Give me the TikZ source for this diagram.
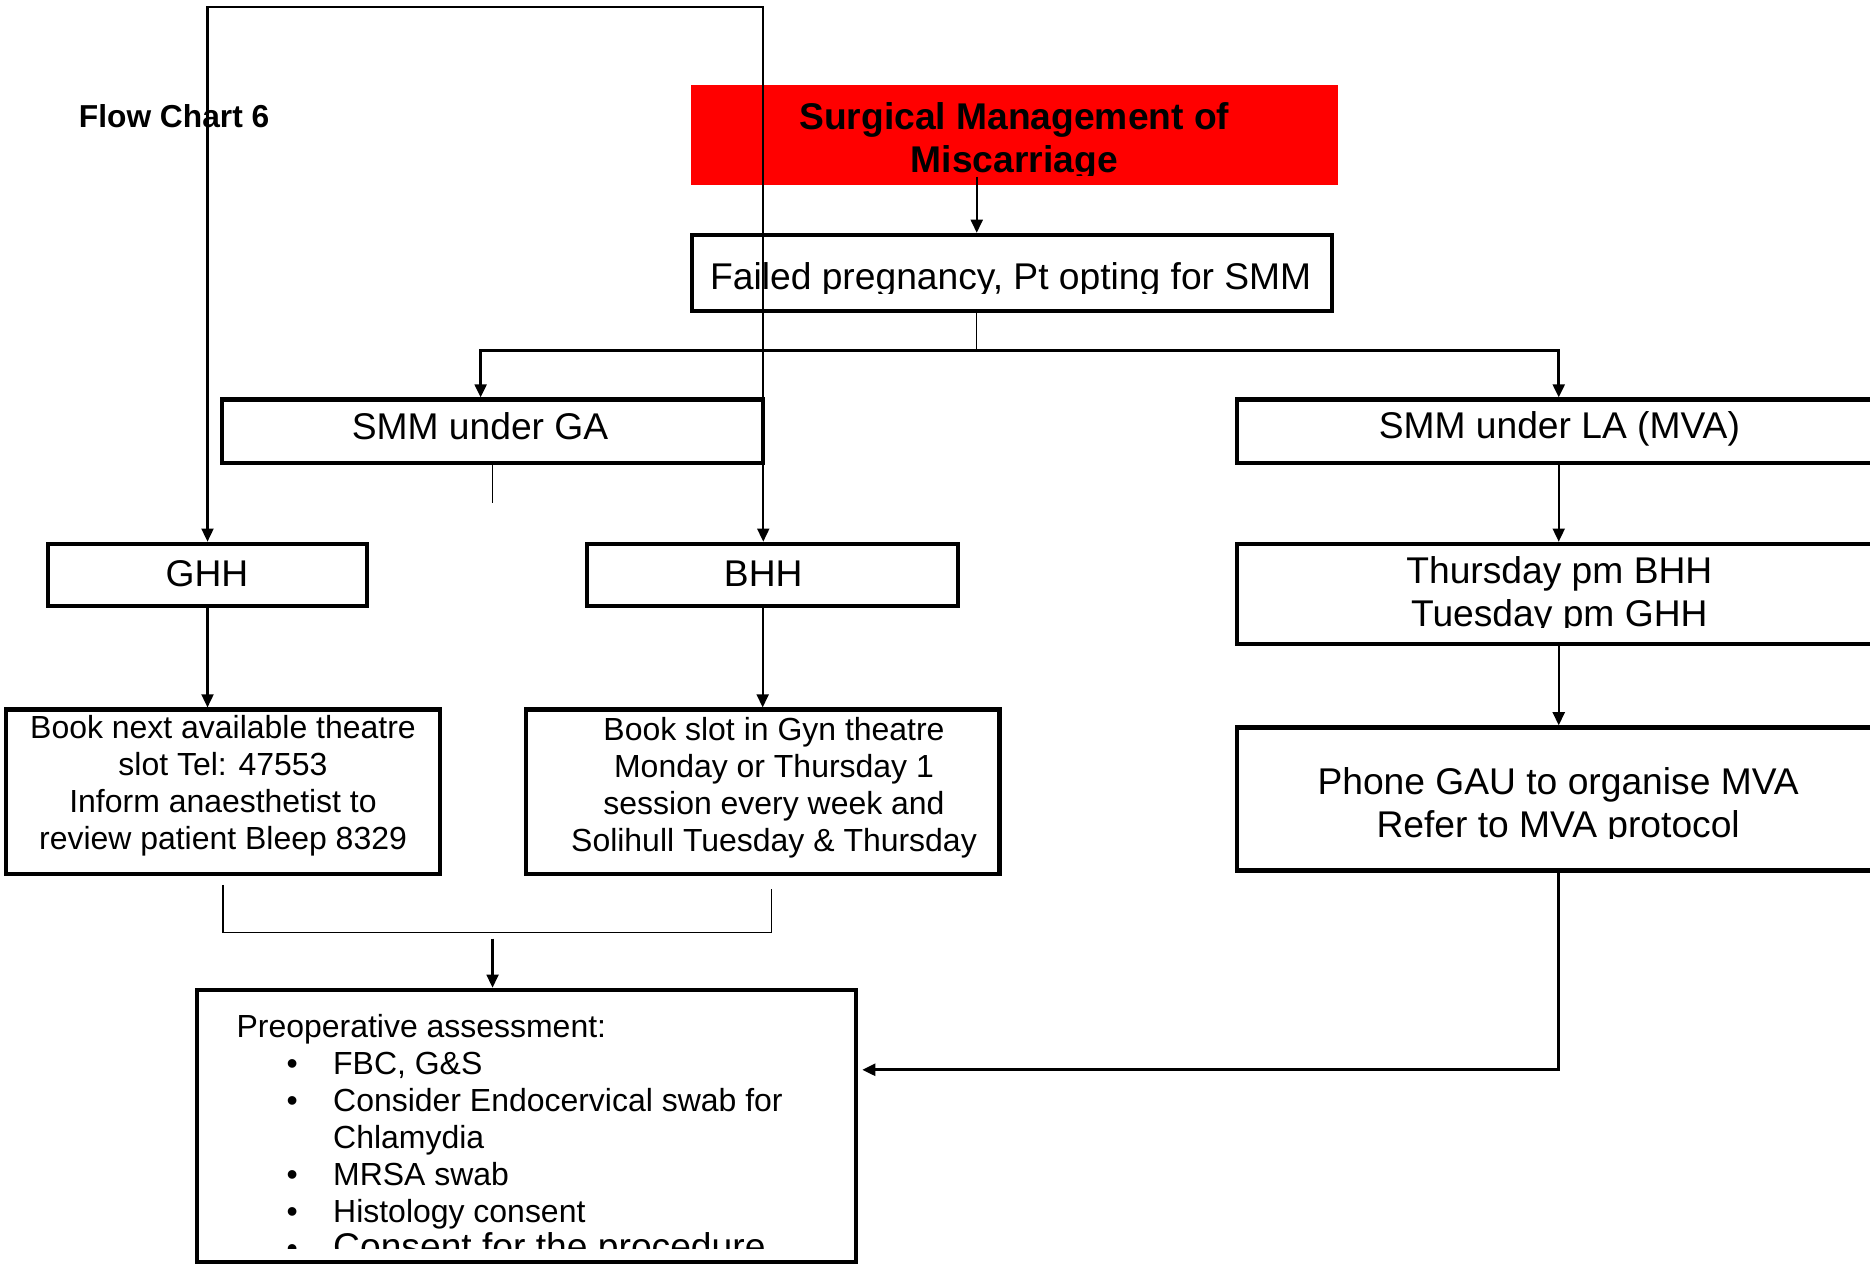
\documentclass[tikz,border=0pt]{standalone}
\usepackage{fontspec}
\setmainfont{Liberation Sans}
\usetikzlibrary{arrows.meta}
\begin{document}
\begin{tikzpicture}[x=0.5pt,y=-0.5pt,
  frame/.style={draw=black, line width=1.8pt, inner sep=0pt},
  bigtxt/.style={inner sep=0pt, align=center, font=\fontsize{15.6}{18}\selectfont},
  smalltxt/.style={inner sep=0pt, align=center, font=\fontsize{13.4}{15.5}\selectfont},
  conn/.style={draw=black, line width=0.9pt},
  thin/.style={draw=black, line width=0.6pt},
  arr/.style={conn, -{Triangle[length=5.5pt,width=5pt]}},
  dblarr/.style={conn, {Triangle[length=5.5pt,width=5pt]}-{Triangle[length=5.5pt,width=5pt]}},
]
\clip (0,0) rectangle (1568,1060);
\fill[white] (0,0) rectangle (1568,1060);

% title
\node[fill=red, inner sep=0pt, minimum width=271.5pt, minimum height=42pt] (title) at (850.5,113) {};
\begin{scope}
\clip (579,71) rectangle (1122,147);
\node[bigtxt, font=\bfseries\fontsize{15.6}{18}\selectfont] (titleT) at (850.5,119) {Surgical Management of\\Miscarriage};
\end{scope}

\node[inner sep=0pt, font=\bfseries\fontsize{13.3}{16}\selectfont] (fc) at (146,97) {Flow Chart 6};

% failed
\node[frame, minimum width=268.5pt, minimum height=32pt] (failed) at (848.5,229) {};
\begin{scope}
\clip (580,197) rectangle (1117,246);
\node[bigtxt] (failedT) at (847.5,235) {Failed pregnancy, Pt opting for SMM};
\end{scope}

% SMM under GA
\node[frame, minimum width=227pt, minimum height=26.5pt] (smmga) at (413,361.5) {};
\node[bigtxt] (smmgaT) at (402.5,357) {SMM under GA};
% SMM under LA
\node[frame, minimum width=270pt, minimum height=26.5pt] (smmla) at (1307,361.5) {};
\node[bigtxt] (smmlaT) at (1307.5,360) {SMM under LA (MVA)};
% GHH
\node[frame, minimum width=134pt, minimum height=26pt] (ghh) at (174,482) {};
\node[bigtxt] (ghhT) at (173.5,481) {GHH};
% BHH
\node[frame, minimum width=155.5pt, minimum height=26pt] (bhh) at (647.5,482) {};
\node[bigtxt] (bhhT) at (640,481) {BHH};
% Thursday
\node[frame, minimum width=270pt, minimum height=42pt] (thu) at (1307,498) {};
\begin{scope}
\clip (1037,456) rectangle (1577,526);
\node[bigtxt] (thuT) at (1307.5,499) {Thursday pm BHH\\Tuesday pm GHH};
\end{scope}
% Book next
\node[frame, minimum width=182pt, minimum height=69pt] (book1) at (187,664) {};
\node[smalltxt] (book1T) at (187,659) {Book next available theatre\\slot Tel: 47553\\Inform anaesthetist to\\review patient Bleep 8329};
% Book slot
\node[frame, minimum width=198.5pt, minimum height=69pt] (book2) at (639.5,664) {};
\node[smalltxt] (book2T) at (649,660.5) {Book slot in Gyn theatre\\Monday or Thursday 1\\session every week and\\Solihull Tuesday \& Thursday};
% Phone
\node[frame, minimum width=270pt, minimum height=60pt] (phone) at (1307,670) {};
\begin{scope}
\clip (1037,610) rectangle (1577,703);
\node[bigtxt] (phoneT) at (1306.5,676) {Phone GAU to organise MVA\\Refer to MVA protocol};
\end{scope}
% Preop
\node[frame, minimum width=276.5pt, minimum height=114pt] (preop) at (441.5,944) {};
\begin{scope}
\clip (165,830) rectangle (718,1047);
\node[smalltxt, align=left, anchor=north west] (preopT) at (198,850) {Preoperative assessment:\\
\hspace*{21pt}\makebox[19.5pt][l]{•}FBC, G\&S\\
\hspace*{21pt}\makebox[19.5pt][l]{•}Consider Endocervical swab for\\
\hspace*{40.5pt}Chlamydia\\
\hspace*{21pt}\makebox[19.5pt][l]{•}MRSA swab\\
\hspace*{21pt}\makebox[19.5pt][l]{•}Histology consent\\
\hspace*{21pt}\makebox[19.5pt][l]{•}{\fontsize{15.6}{15.5}\selectfont Consent for the procedure}};
\end{scope}

% connectors
\coordinate (loopR) at (640,6);
\draw[dblarr] (ghh.north) |- (loopR) -- (loopR |- bhh.north);

\coordinate (redout) at (819,148);
\draw[arr] (redout) -- (redout |- failed.north);
\coordinate (split) at (819,294);
\draw[thin] (redout |- failed.south) -- (split);
\coordinate (gaIn) at (403,294);
\draw[arr, line width=1.1pt] (split) -- (gaIn) -- (gaIn |- smmga.north);
\draw[arr, line width=1.1pt] (split) -| (smmla.north);

\draw[thin] (smmga.south) -- ++(0,32);
\draw[arr] (smmla.south) -- (thu.north);
\draw[arr] (thu.south) -- (phone.north);
\draw[arr] (ghh.south) -- (ghh.south |- book1.north);
\draw[arr] (book2.north |- bhh.south) -- (book2.north);

\coordinate (m1) at (187,742);
\coordinate (m2) at (647,745);
\coordinate (mbar) at (413,782);
\draw[thin] (m1) |- (mbar) -| (m2);
\coordinate (mdown) at (413,787);
\draw[arr] (mdown) -- (mdown |- preop.north);

\coordinate (pin) at (723,897);
\draw[arr, line width=1.2pt] (phone.south) |- (pin);
\end{tikzpicture}
\end{document}
